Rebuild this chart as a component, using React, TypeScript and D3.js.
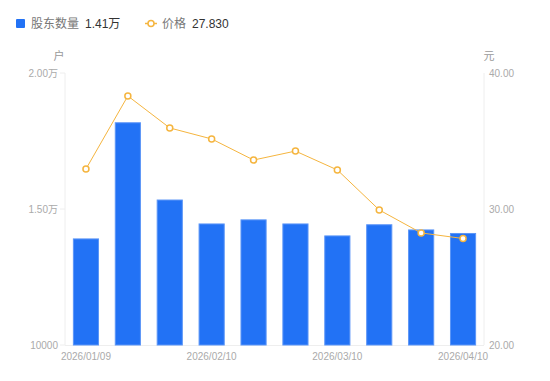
import React from "react";
import * as d3 from "d3";

const categories = ["2026/01/09","2026/01/20","2026/01/31","2026/02/10","2026/02/20","2026/02/28","2026/03/10","2026/03/20","2026/03/31","2026/04/10"];
const holders = [13900, 18170, 15330, 14450, 14600, 14450, 14010, 14420, 14230, 14100];
const prices = [32.94, 38.31, 35.96, 35.15, 33.6, 34.26, 32.87, 29.93, 28.24, 27.83];
const leftTicks = [10000, 15000, 20000];
const leftTickLabels = ["10000", "1.50万", "2.00万"];
const rightTicks = [20, 30, 40];
const xLabelIdx = [0, 3, 6, 9];

export default function App() {
  const W = 550, H = 381;
  const left = 65, right = 484, top = 73, bottom = 345;
  const x = d3.scaleBand<string>().domain(categories).range([left, right]).paddingInner(0.4).paddingOuter(0.2);
  const yL = d3.scaleLinear().domain([10000, 20000]).range([bottom, top]);
  const yR = d3.scaleLinear().domain([20, 40]).range([bottom, top]);
  const cx = (c: string) => (x(c) as number) + x.bandwidth() / 2;
  const line = d3.line<number>().x((_, i) => cx(categories[i])).y(d => yR(d));
  const font = "'Liberation Sans', Arial, 'Noto Sans CJK SC', sans-serif";
  const blue = "#2272f5";
  const orange = "#f5b53f";
  return (
    <svg width={W} height={H} style={{ position: "absolute", left: 0, top: 0, fontFamily: font }}>
      <rect width={W} height={H} fill="#fff" />
      {/* legend */}
      <rect x={16} y={19} width={9} height={9} fill={blue} rx={1} />
      <text x={31} y={28} fontSize={12} fill="#777">股东数量</text>
      <text x={85} y={28} fontSize={12} fill="#333">1.41万</text>
      <line x1={145} x2={157} y1={23.5} y2={23.5} stroke={orange} strokeWidth={1.5} />
      <circle cx={151} cy={23.5} r={3} fill="#fff" stroke={orange} strokeWidth={1.5} />
      <text x={162} y={28} fontSize={12} fill="#777">价格</text>
      <text x={192} y={28} fontSize={12} fill="#333">27.830</text>
      {/* units */}
      <text x={59} y={60} fontSize={11} fill="#999" textAnchor="middle">户</text>
      <text x={489} y={60} fontSize={11} fill="#999" textAnchor="middle">元</text>
      {/* axes */}
      <line x1={left} x2={left} y1={top} y2={bottom} stroke="#eee" />
      <line x1={right} x2={right} y1={top} y2={bottom} stroke="#eee" />
      <line x1={left} x2={right} y1={bottom + 0.5} y2={bottom + 0.5} stroke="#eee" />
      {leftTicks.map((t, i) => (
        <g key={"l" + i}>
          <line x1={left - 5} x2={left} y1={yL(t)} y2={yL(t)} stroke="#eee" />
          <text x={left - 7} y={yL(t) + 3.5} fontSize={10} fill="#aaa" textAnchor="end">{leftTickLabels[i]}</text>
        </g>
      ))}
      {rightTicks.map((t, i) => (
        <g key={"r" + i}>
          <text x={right + 5} y={yR(t) + 3.5} fontSize={10} fill="#aaa">{t.toFixed(2)}</text>
        </g>
      ))}
      {xLabelIdx.map(i => (
        <text key={"x" + i} x={cx(categories[i])} y={360} fontSize={10} fill="#aaa" textAnchor="middle">{categories[i]}</text>
      ))}
      {/* bars */}
      {holders.map((v, i) => (
        <rect key={"b" + i} x={x(categories[i])} y={yL(v)} width={x.bandwidth()} height={bottom - yL(v)} fill={blue} stroke="#5b95f7" strokeWidth={1} />
      ))}
      {/* line */}
      <path d={line(prices) || ""} fill="none" stroke={orange} strokeWidth={1} />
      {prices.map((p, i) => (
        <circle key={"c" + i} cx={cx(categories[i])} cy={yR(p)} r={3} fill="#fff" stroke={orange} strokeWidth={1.5} />
      ))}
    </svg>
  );
}
